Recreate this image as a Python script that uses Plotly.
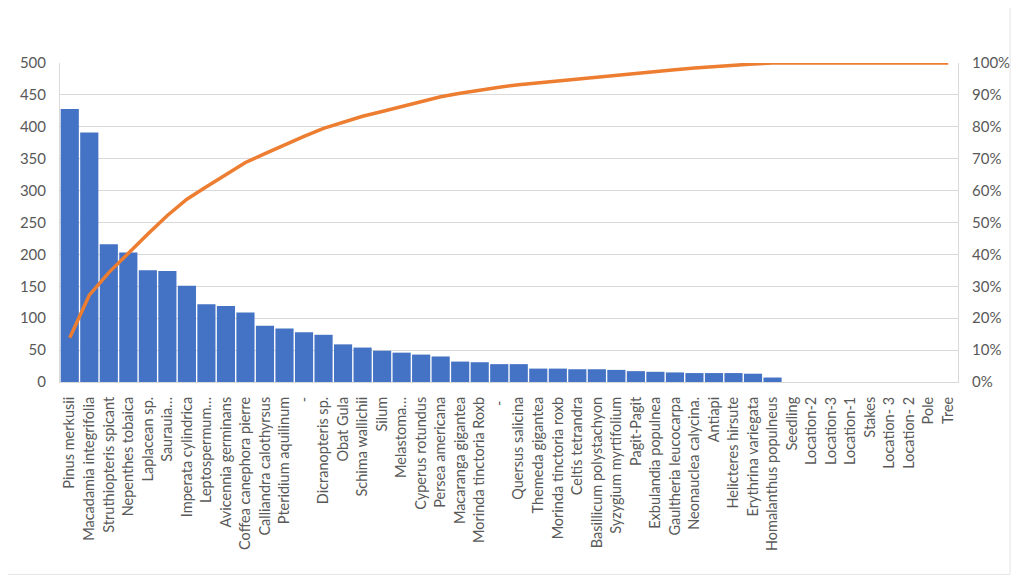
import plotly.graph_objects as go

# Species / categories, in the order shown
species = [
    "Pinus merkusii", "Macadamia integrifolia", "Struthiopteris spicant",
    "Nepenthes tobaica", "Laplacean sp.", "Saurauia…", "Imperata cylindrica",
    "Leptospermum…", "Avicennia germinans", "Coffea canephora pierre",
    "Calliandra calothyrsus", "Pteridium aquilinum", "-", "Dicranopteris sp.",
    "Obat Gula", "Schima wallichii", "Silum", "Melastoma…", "Cyperus rotundus",
    "Persea americana", "Macaranga gigantea", "Morinda tinctoria Roxb", "- ",
    "Quersus salicina", "Themeda gigantea", "Morinda tinctoria roxb",
    "Celtis tetrandra", "Basillicum polystachyon", "Syzygium myrtifolium",
    "Pagit-Pagit", "Exbulandia populnea", "Gaultheria leucocarpa",
    "Neonauclea calycina.", "Antiapi", "Helicteres hirsute",
    "Erythrina variegata", "Homalanthus populneus", "Seedling", "Location-2",
    "Location-3", "Location-1", "Stakes", "Location- 3", "Location- 2",
    "Pole", "Tree",
]

# Bar values (count)
counts = [
    428, 391, 216, 203, 175, 174, 151, 122, 119, 109,
    88, 84, 78, 74, 59, 54, 49, 46, 43, 40,
    32, 31, 28, 28, 21, 21, 20, 20, 19, 17,
    16, 15, 14, 14, 14, 13, 7, 0, 0, 0,
    0, 0, 0, 0, 0, 0,
]

# Cumulative percentage line
cum_pct = [
    13.9, 27.2, 34.3, 40.5, 46.4, 52.2, 57.3, 61.2, 65.1, 68.8,
    71.6, 74.4, 77.0, 79.5, 81.5, 83.3, 84.8, 86.4, 88.0, 89.4,
    90.5, 91.5, 92.4, 93.2, 93.8, 94.5, 95.1, 95.7, 96.3, 96.9,
    97.4, 97.9, 98.4, 98.9, 99.3, 99.7, 100, 100, 100, 100,
    100, 100, 100, 100, 100, 100,
]

grey_txt = "#595959"
grid = "#D9D9D9"
font_name = "Lato"

fig = go.Figure()

fig.add_trace(go.Bar(
    x=species, y=counts,
    marker=dict(color="#4472C4", line=dict(width=0)),
    name="Count",
))

fig.add_trace(go.Scatter(
    x=species, y=cum_pct,
    mode="lines",
    line=dict(color="#ED7D31", width=3.5),
    yaxis="y2",
    name="Cumulative %",
))

fig.update_layout(
    width=1026, height=569,
    margin=dict(l=52, r=76, t=55, b=195, autoexpand=False),
    paper_bgcolor="white",
    plot_bgcolor="white",
    showlegend=False,
    bargap=0.07,
    font=dict(family=font_name, color=grey_txt, size=14),
    xaxis=dict(
        type="category",
        tickangle=-90,
        tickfont=dict(size=14.5, color=grey_txt),
        showline=True, linecolor=grid, linewidth=1,
        showgrid=False,
        ticklabelstandoff=8,
    ),
    yaxis=dict(
        range=[0, 500], dtick=50,
        showgrid=True, gridcolor=grid, gridwidth=1,
        showline=True, linecolor=grid, linewidth=1,
        zeroline=False,
        tickfont=dict(size=15, color=grey_txt),
        ticklabelstandoff=10,
    ),
    yaxis2=dict(
        range=[0, 100], dtick=10, ticksuffix="%",
        overlaying="y", side="right",
        showgrid=False,
        showline=True, linecolor=grid, linewidth=1,
        zeroline=False,
        tickfont=dict(size=15, color=grey_txt),
        ticklabelstandoff=10,
    ),
    shapes=[
        # faint chart-area frame like the Excel chart object
        dict(type="rect", xref="paper", yref="paper",
             x0=-0.0668, x1=1.058, y0=-0.603, y1=1.187,
             line=dict(color="#E3E3E3", width=1)),
    ],
)

fig.write_html("out.html")
